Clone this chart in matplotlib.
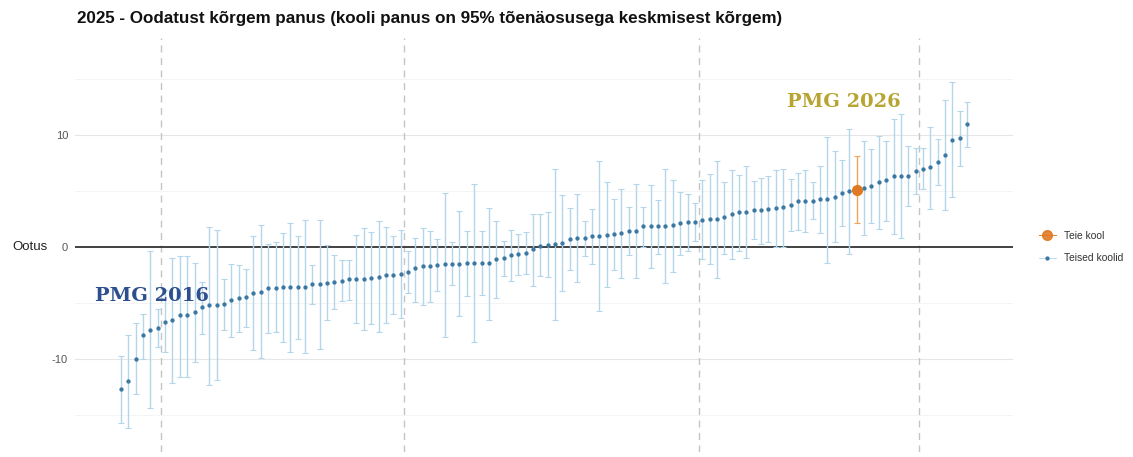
import numpy as np
import matplotlib
matplotlib.use("Agg")
import matplotlib.pyplot as plt
from matplotlib.lines import Line2D

# estimate, lower and upper 95% bound for each school (sorted by estimate)
est = [-12.7, -12.0, -10.0, -7.9, -7.4, -7.2, -6.7, -6.5, -6.1, -6.1,
       -5.8, -5.4, -5.2, -5.2, -5.1, -4.7, -4.6, -4.5, -4.1, -4.0,
       -3.7, -3.7, -3.6, -3.6, -3.6, -3.6, -3.3, -3.3, -3.2, -3.1,
       -3.0, -2.9, -2.9, -2.9, -2.8, -2.65, -2.5, -2.5, -2.4, -2.2,
       -1.9, -1.7, -1.7, -1.6, -1.5, -1.5, -1.5, -1.45, -1.45, -1.4,
       -1.4, -1.1, -1.0, -0.7, -0.65, -0.5, -0.2, 0.06, 0.15, 0.3,
       0.35, 0.75, 0.8, 0.8, 1.0, 1.0, 1.05, 1.2, 1.25, 1.4,
       1.4, 1.85, 1.85, 1.9, 1.9, 2.0, 2.15, 2.2, 2.2, 2.45,
       2.5, 2.5, 2.7, 2.9, 3.1, 3.15, 3.3, 3.3, 3.4, 3.5,
       3.55, 3.75, 4.1, 4.1, 4.1, 4.3, 4.3, 4.5, 4.8, 5.0,
       5.05, 5.3, 5.4, 5.8, 6.0, 6.3, 6.3, 6.35, 6.8, 7.0,
       7.1, 7.6, 8.25, 9.55, 9.7, 10.95]
lower = [-15.7, -16.2, -13.1, -10.0, -14.4, -8.9, -9.4, -12.1, -11.6, -11.6,
         -10.3, -7.8, -12.3, -11.9, -7.4, -8.0, -7.6, -7.1, -9.2, -9.9,
         -7.7, -7.6, -8.5, -9.4, -8.2, -9.5, -5.1, -9.1, -6.5, -5.5,
         -4.8, -4.7, -6.8, -7.4, -6.9, -7.6, -6.8, -6.0, -6.3, -4.1,
         -4.9, -5.2, -4.9, -3.9, -8.0, -3.4, -6.2, -4.4, -8.5, -4.3,
         -6.5, -4.6, -2.6, -3.0, -2.5, -2.4, -3.5, -2.6, -2.7, -6.5,
         -3.9, -2.05, -3.1, -0.85, -1.5, -5.7, -3.6, -2.1, -2.8, -0.75,
         -2.8, 0.0, -1.9, -0.6, -3.2, -2.2, -0.7, -0.4, 0.5, -1.1,
         -1.5, -2.8, -0.6, -1.1, -0.35, -0.95, 0.7, 0.3, 0.4, 0.0,
         0.0, 1.4, 1.5, 1.3, 2.5, 1.25, -1.4, 0.4, 1.9, -0.6,
         2.1, 1.05, 2.1, 1.6, 2.3, 1.15, 0.8, 3.7, 4.7, 5.15,
         3.4, 5.5, 3.3, 4.5, 7.2, 8.9]
upper = [-9.7, -7.9, -6.8, -6.0, -0.4, -5.5, -3.8, -1.0, -0.8, -0.8,
         -1.4, -3.1, 1.8, 1.5, -2.9, -1.5, -1.6, -2.0, 1.0, 2.0,
         0.3, 0.4, 1.25, 2.1, 1.0, 2.4, -1.6, 2.4, 0.2, -0.7,
         -1.2, -1.2, 1.1, 1.7, 1.3, 2.3, 1.8, 1.0, 1.5, -0.4,
         0.8, 1.7, 1.4, 0.7, 4.8, 0.4, 3.2, 1.4, 5.6, 1.4,
         3.5, 2.3, 0.5, 1.5, 1.2, 1.3, 2.9, 2.9, 3.1, 7.0,
         4.6, 3.5, 4.7, 2.35, 3.4, 7.65, 5.8, 4.3, 5.15, 3.6,
         5.6, 3.6, 5.5, 4.2, 6.95, 6.0, 4.9, 4.75, 3.9, 6.0,
         6.5, 7.7, 5.8, 6.9, 6.45, 7.2, 5.9, 6.2, 6.3, 6.9,
         7.0, 6.1, 6.6, 6.9, 5.8, 7.2, 9.8, 8.6, 7.8, 10.5,
         8.1, 9.5, 8.75, 9.9, 9.5, 11.4, 11.9, 9.0, 8.85, 8.8,
         10.75, 9.6, 13.1, 14.7, 12.1, 12.9]
own_school = 100          # position of "Teie kool" in the sorted list
group_breaks = [6.5, 39.5, 79.5, 109.5]

title = "2025 - Oodatust kõrgem panus (kooli panus on 95% tõenäosusega keskmisest kõrgem)"

est = np.array(est)
lower = np.array(lower)
upper = np.array(upper)
x = np.arange(1, len(est) + 1)
others = np.arange(len(est)) != own_school

plt.rcParams['font.family'] = ['Liberation Sans', 'DejaVu Sans']
fig = plt.figure(figsize=(11.33, 4.57), dpi=100)
ax = fig.add_axes([0.0662, 0.011, 0.828, 0.906])

# background grid (ggplot minimal look)
for y in [-15, -5, 5, 15]:
    ax.axhline(y, color='#f2f2f2', lw=0.6, zorder=0)
for y in [-10, 10]:
    ax.axhline(y, color='#e6e6e6', lw=0.8, zorder=0)
for b in group_breaks:
    ax.axvline(b, color='#c4c4c4', lw=1.0, ls=(0, (5, 4)), zorder=0)
ax.axhline(0, color='#333333', lw=1.3, zorder=1)

ax.errorbar(x[others], est[others],
            yerr=[est[others] - lower[others], upper[others] - est[others]],
            fmt='o', color='#3a78a3', ms=2.1, ecolor='#b3d6ea', elinewidth=1.0,
            capsize=2.5, capthick=0.8, zorder=2)
ax.errorbar([x[own_school]], [est[own_school]],
            yerr=[[est[own_school] - lower[own_school]], [upper[own_school] - est[own_school]]],
            fmt='o', color='#e07a22', ms=7, ecolor='#f0a35c', elinewidth=1.0,
            capsize=2.5, capthick=0.8, zorder=3)

ax.text(-2.5, -4.4, "PMG 2016", color='#2d4f8e', fontsize=14, fontweight='bold',
        family='DejaVu Serif', ha='left', va='center', zorder=4)
ax.text(91.5, 12.9, "PMG 2026", color='#b8a432', fontsize=14, fontweight='bold',
        family='DejaVu Serif', ha='left', va='center', zorder=4)

ax.set_xlim(-5.25, 122.25)
ax.set_ylim(-18.3, 18.66)
ax.set_xticks([])
ax.set_yticks([-10, 0, 10])
ax.set_yticklabels(['-10', '0', '10'], color='#555555', fontsize=8)
ax.tick_params(axis='y', length=0, pad=5)
for s in ax.spines.values():
    s.set_visible(False)
ax.text(-0.0288, 0, "Ootus", transform=ax.get_yaxis_transform(), ha='right',
        va='center', fontsize=9.5, color='#222222')

fig.text(77 / 1133, 1 - 18.5 / 457, title, fontsize=12.25, fontweight='bold',
         ha='left', va='center', color='#111111')

handles = [Line2D([], [], color='#e07a22', marker='o', ms=7, lw=0.8, alpha=0.9),
           Line2D([], [], color='#b3d6ea', marker='o', ms=2.1, lw=0.6,
                  markerfacecolor='#3a78a3', markeredgecolor='#3a78a3')]
fig.legend(handles, ['Teie kool', 'Teised koolid'], loc='center left',
           bbox_to_anchor=(1030 / 1133, 1 - 247 / 457), frameon=False,
           fontsize=7.4, handlelength=1.6, labelspacing=1.2, labelcolor='#333333')

fig.savefig('out.png', dpi=100)
